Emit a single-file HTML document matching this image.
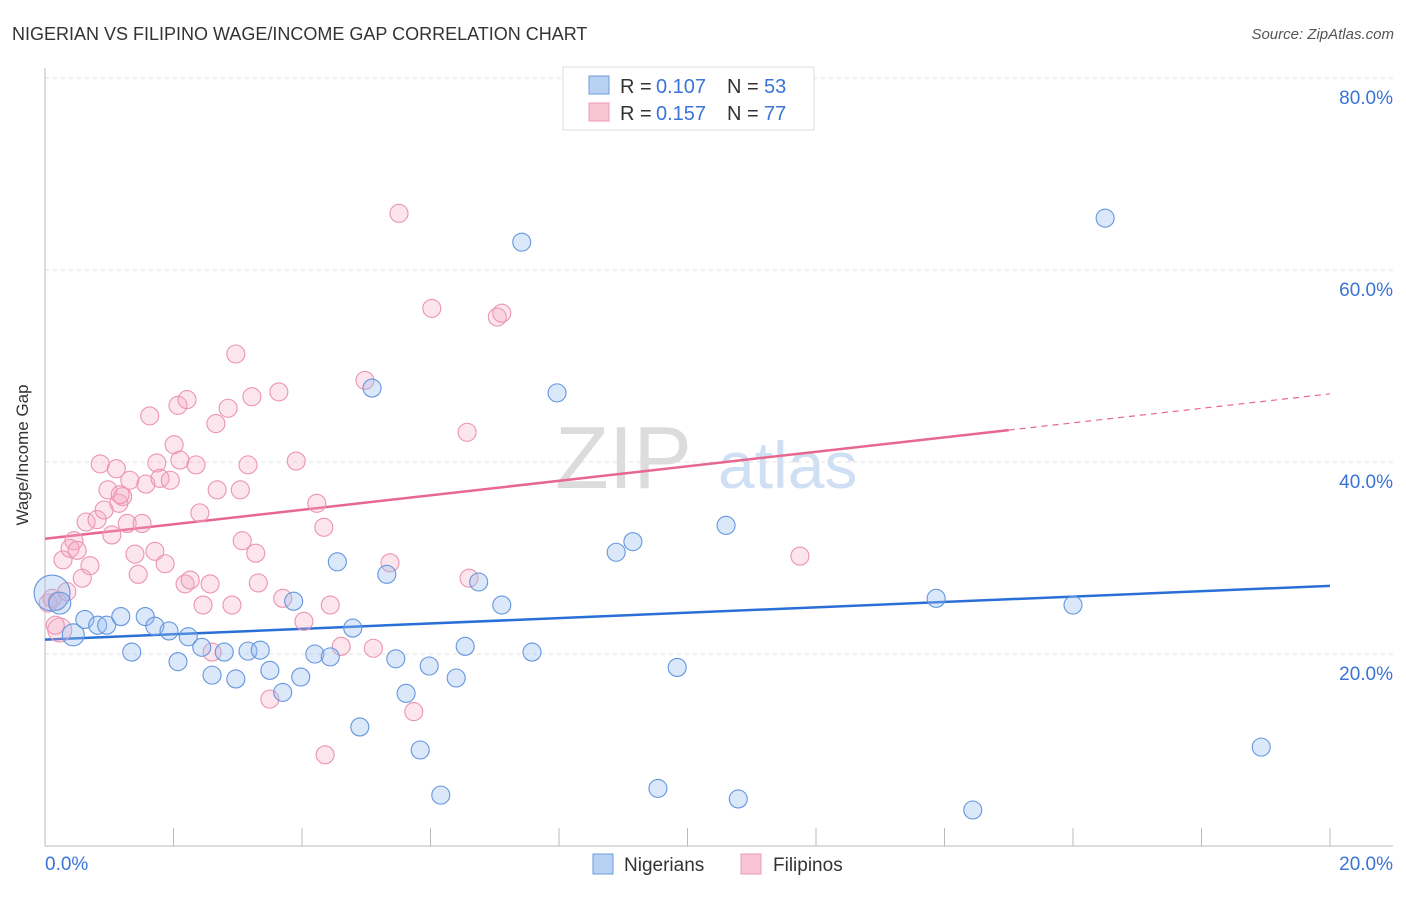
<!DOCTYPE html>
<html><head><meta charset="utf-8"><style>
body{margin:0;background:#fff;font-family:"Liberation Sans",sans-serif;}
svg text{font-family:"Liberation Sans",sans-serif;}
</style></head><body>
<svg id="chart" width="1406" height="892">
<text x="12" y="40" font-size="18" fill="#333">NIGERIAN VS FILIPINO WAGE/INCOME GAP CORRELATION CHART</text>
<text x="1394" y="39" font-size="15" fill="#555" font-style="italic" text-anchor="end">Source: ZipAtlas.com</text>
<g>
<text x="555" y="488" font-size="88" fill="#dcdcdc" font-family="Liberation Serif,serif">ZIP</text>
<text x="718" y="488" font-size="66" fill="#cfdff4">atlas</text>
</g>
<g id="grid"></g>
<g id="axes"></g>
<g id="lines"></g>
<g id="points"></g>
<text x="28" y="455" font-size="17" fill="#333" text-anchor="middle" transform="rotate(-90 28 455)">Wage/Income Gap</text>
<g>
<rect x="563" y="67" width="251" height="63" fill="#fff" stroke="#ddd"/>
<rect x="589" y="76" width="20" height="18" fill="#b8d2f3" stroke="#6d9be0"/>
<rect x="589" y="103" width="20" height="18" fill="#f8c5d5" stroke="#ec9ab4"/>
<text x="620" y="93" font-size="20" fill="#333">R =</text>
<text x="656" y="93" font-size="20" fill="#3a74d6">0.107</text>
<text x="727" y="93" font-size="20" fill="#333">N =</text>
<text x="764" y="93" font-size="20" fill="#3a74d6">53</text>
<text x="620" y="120" font-size="20" fill="#333">R =</text>
<text x="656" y="120" font-size="20" fill="#3a74d6">0.157</text>
<text x="727" y="120" font-size="20" fill="#333">N =</text>
<text x="764" y="120" font-size="20" fill="#3a74d6">77</text>
</g>
<g>
<rect x="593" y="854" width="20" height="20" fill="#b8d2f3" stroke="#6d9be0"/>
<text x="624" y="871" font-size="19" fill="#333">Nigerians</text>
<rect x="741" y="854" width="20" height="20" fill="#f8c5d5" stroke="#ec9ab4"/>
<text x="773" y="871" font-size="19" fill="#333">Filipinos</text>
</g>
</svg>
<script>
const yTicks=[20,40,60,80];
const yTickLabels=["20.0%","40.0%","60.0%","80.0%"];
const xTickLabels=["0.0%","20.0%"];
const nigX=[0.11,0.23,0.44,0.62,0.82,0.96,1.18,1.35,1.56,1.71,1.93,2.07,2.23,2.44,2.60,2.79,2.97,3.16,3.35,3.50,3.70,3.87,3.98,4.20,4.44,4.55,4.79,4.90,5.09,5.32,5.46,5.62,5.84,5.98,6.16,6.40,6.54,6.75,7.11,7.42,7.58,7.97,8.89,9.15,9.54,9.84,10.60,10.79,13.87,14.44,16.0,16.50,18.93];
const nigY=[26.35,25.3,22.0,23.6,23.0,23.0,23.9,20.2,23.9,22.9,22.4,19.2,21.8,20.7,17.8,20.2,17.4,20.3,20.4,18.3,16.0,25.5,17.6,20.0,19.7,29.6,22.7,12.4,47.7,28.3,19.5,15.9,10.0,18.75,5.3,17.5,20.8,27.5,25.1,62.9,20.2,47.2,30.6,31.7,6.0,18.6,33.4,4.9,25.8,3.75,25.1,65.4,10.3];
const filX=[0.05,0.11,0.19,0.23,0.28,0.34,0.39,0.45,0.50,0.58,0.64,0.81,0.70,0.86,0.92,0.98,1.04,1.11,1.15,1.21,1.28,1.32,1.40,1.45,1.51,1.57,1.63,1.71,1.74,1.79,1.87,1.95,2.01,2.07,2.10,2.18,2.21,2.26,2.35,2.41,2.46,2.57,2.60,2.66,2.68,2.85,2.91,2.97,3.04,3.07,3.16,3.22,3.28,3.32,3.50,3.64,3.70,3.91,4.03,4.23,4.34,4.36,4.44,4.61,4.98,5.11,5.37,5.51,5.74,6.02,6.57,6.60,7.04,7.11,11.75,0.16,1.17];
const filY=[25.3,25.8,25.5,22.5,29.8,26.5,31.0,31.8,30.8,27.9,33.75,34.0,29.2,39.8,35.0,37.1,32.4,39.3,35.7,36.4,33.6,38.1,30.4,28.3,33.6,37.7,44.8,30.7,39.9,38.3,29.4,38.1,41.8,45.9,40.2,27.3,46.5,27.7,39.7,34.7,25.1,27.3,20.2,44.0,37.1,45.6,25.1,51.25,37.1,31.8,39.7,46.8,30.5,27.4,15.3,47.3,25.8,40.1,23.4,35.7,33.2,9.5,25.1,20.8,48.5,20.6,29.5,65.9,14.0,56.0,43.1,27.9,55.1,55.5,30.2,23.0,36.6];
const nigTrend=[21.5,27.1];
const filTrend=[32.0,47.1];
const filSolidEnd=15.0;

const NS="http://www.w3.org/2000/svg";
const X=v=>45+v/20*1285;
const Y=v=>846-v*9.6;
function mk(tag,attrs,parent){const e=document.createElementNS(NS,tag);for(const k in attrs)e.setAttribute(k,attrs[k]);parent.appendChild(e);return e;}
const grid=document.getElementById('grid'),axes=document.getElementById('axes'),lines=document.getElementById('lines'),pts=document.getElementById('points');
yTicks.forEach((t,i)=>{
 const l=mk('line',{x1:45,x2:1393,y1:Y(t),y2:Y(t),stroke:'#e0e0e0','stroke-dasharray':'4,4'},grid);
 
 
 const tx=mk('text',{x:1393,y:Y(t)+26,'font-size':19,fill:'#3a74d6','text-anchor':'end'},grid);
 tx.textContent=yTickLabels[i];
 
 
});
const ya=mk('line',{x1:45,x2:45,y1:68,y2:846,stroke:'#bbb'},axes);


const xa=mk('line',{x1:45,x2:1393,y1:846,y2:846,stroke:'#bbb'},axes);


for(let i=0;i<=10;i++){
 const tk=mk('line',{x1:X(i*2),x2:X(i*2),y1:828,y2:846,stroke:'#bbb'},axes);
 
 
}
const xl0=mk('text',{x:45,y:870,'font-size':19,fill:'#3a74d6'},axes);
xl0.textContent=xTickLabels[0];


const xl1=mk('text',{x:1393,y:870,'font-size':19,fill:'#3a74d6','text-anchor':'end'},axes);
xl1.textContent=xTickLabels[1];



const pr=mk('g',{},pts);


filX.forEach((x,i)=>{
 const c=mk('circle',{cx:X(x),cy:Y(filY[i]),r:(i==3?12:9),fill:'rgba(244,170,195,0.3)',stroke:'#eb94b0','stroke-width':1.1},pr);
 
 
});
const br=mk('g',{},pts);


nigX.forEach((x,i)=>{
 const c=mk('circle',{cx:X(x),cy:Y(nigY[i]),r:(i==0?18:(i==1||i==2?11:9)),fill:'rgba(150,190,240,0.35)',stroke:'#6496de','stroke-width':1.1},br);
 
 
});
const nl=mk('line',{x1:X(0),y1:Y(nigTrend[0]),x2:X(20),y2:Y(nigTrend[1]),stroke:'#2a6fd6','stroke-width':2.5},lines);


const fe=filTrend[0]+(filTrend[1]-filTrend[0])*filSolidEnd/20;
const fl=mk('line',{x1:X(0),y1:Y(filTrend[0]),x2:X(filSolidEnd),y2:Y(fe),stroke:'#e8678f','stroke-width':2.5},lines);


const fd=mk('line',{x1:X(filSolidEnd),y1:Y(fe),x2:X(20),y2:Y(filTrend[1]),stroke:'#e8678f','stroke-width':1.2,'stroke-dasharray':'6,5'},lines);


</script>
</body></html>
